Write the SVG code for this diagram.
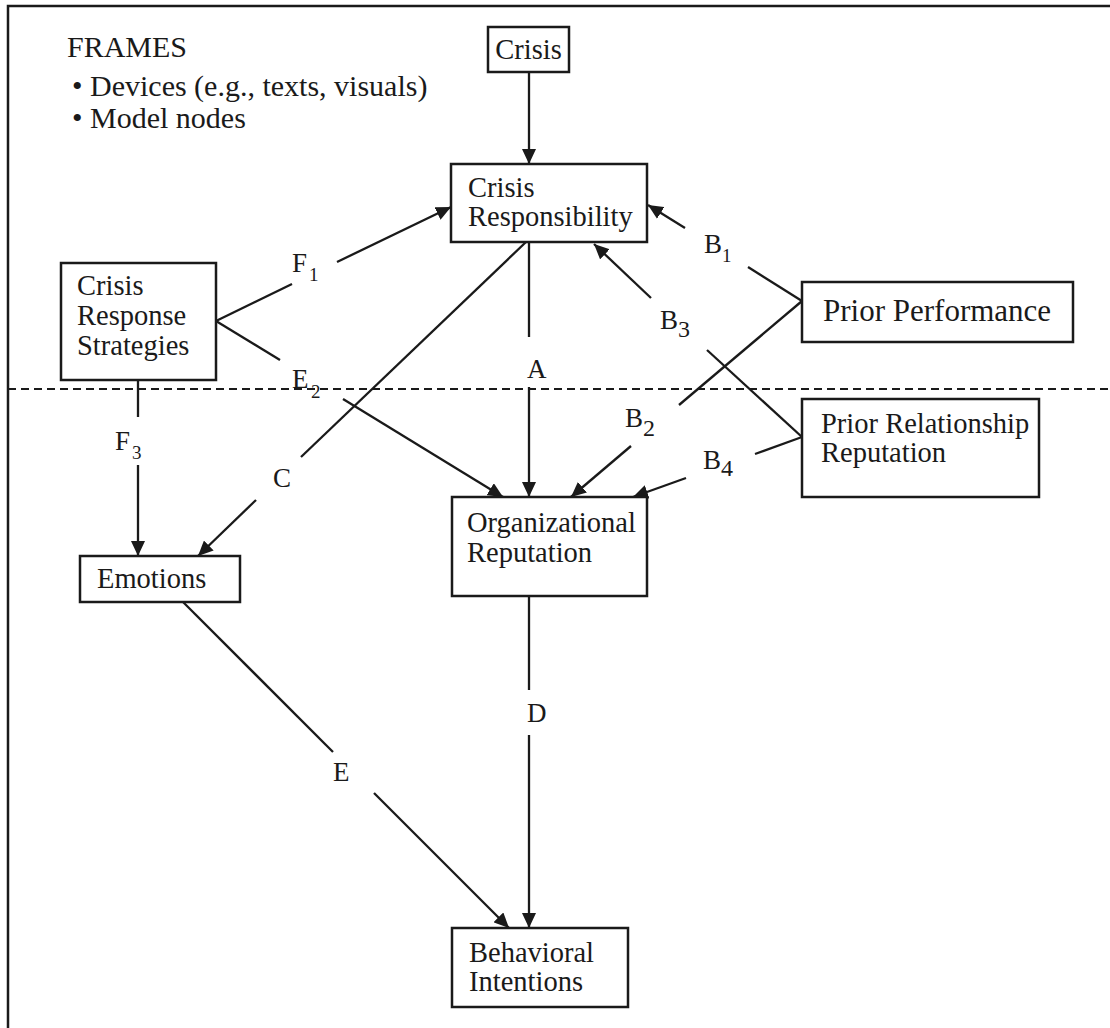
<svg xmlns="http://www.w3.org/2000/svg" width="1110" height="1028" viewBox="0 0 1110 1028">
<style>
  .box { fill: #fff; stroke: #1a1a1a; stroke-width: 2.5; }
  .t { font-family: "Liberation Serif", "Times New Roman", serif; fill: #1a1a1a; font-size: 28.5px; }
  .big { font-size: 30px; }
  .lab { font-family: "Liberation Serif", "Times New Roman", serif; fill: #1a1a1a; font-size: 27px; }
  .sub { font-family: "Liberation Serif", "Times New Roman", serif; fill: #1a1a1a; font-size: 19px; }
  .subL { font-family: "Liberation Serif", "Times New Roman", serif; fill: #1a1a1a; font-size: 24px; }
  .ln { fill: none; stroke: #1a1a1a; stroke-width: 2.3; }
  .arr { marker-end: url(#ah); }
</style>
<defs>
  <marker id="ah" markerUnits="userSpaceOnUse" markerWidth="16" markerHeight="14" refX="15" refY="7" orient="auto">
    <path d="M0,0 L15,7 L0,14 z" fill="#1a1a1a"/>
  </marker>
</defs>
<rect x="0" y="0" width="1110" height="1028" fill="#fff"/>
<path d="M8,1028 V6 H1110" fill="none" stroke="#1a1a1a" stroke-width="2.5"/>
<line x1="8" y1="389" x2="1110" y2="389" stroke="#1a1a1a" stroke-width="2.2" stroke-dasharray="8 5"/>

<g id="legend">
  <text class="t big" x="67" y="57">FRAMES</text>
  <text class="t big" x="72" y="96">• Devices (e.g., texts, visuals)</text>
  <text class="t big" x="72" y="128">• Model nodes</text>
</g>

<g id="connectors">
  <line class="ln arr" x1="529" y1="73" x2="529" y2="164"/>
  <!-- F1 -->
  <line class="ln" x1="216" y1="321" x2="292" y2="284"/>
  <line class="ln arr" x1="337" y1="262" x2="451" y2="207"/>
  <!-- E2 -->
  <line class="ln" x1="216" y1="321" x2="280" y2="360"/>
  <line class="ln arr" x1="343" y1="399" x2="503" y2="497"/>
  <!-- C -->
  <line class="ln" x1="526" y1="242" x2="301" y2="457"/>
  <line class="ln arr" x1="256" y1="500" x2="198" y2="556"/>
  <!-- F3 -->
  <line class="ln" x1="138" y1="380" x2="138" y2="417"/>
  <line class="ln arr" x1="138" y1="465" x2="138" y2="556"/>
  <!-- A -->
  <line class="ln" x1="529" y1="242" x2="529" y2="337"/>
  <line class="ln arr" x1="529" y1="387" x2="529" y2="497"/>
  <!-- B1 -->
  <line class="ln" x1="802" y1="301" x2="748" y2="267"/>
  <line class="ln arr" x1="685" y1="228" x2="648" y2="205"/>
  <!-- B2 -->
  <line class="ln" x1="802" y1="301" x2="679" y2="405"/>
  <line class="ln arr" x1="631" y1="446" x2="571" y2="497"/>
  <!-- B3 -->
  <line class="ln" x1="802" y1="437" x2="707" y2="350"/>
  <line class="ln arr" x1="651" y1="298" x2="594" y2="244"/>
  <!-- B4 -->
  <line class="ln" x1="802" y1="437" x2="755" y2="454"/>
  <line class="ln arr" x1="686" y1="478" x2="633" y2="497"/>
  <!-- D -->
  <line class="ln" x1="529" y1="596" x2="529" y2="690"/>
  <line class="ln arr" x1="529" y1="735" x2="529" y2="928"/>
  <!-- E -->
  <line class="ln" x1="183" y1="602" x2="333" y2="752"/>
  <line class="ln arr" x1="374" y1="793" x2="509" y2="928"/>

  <text class="lab" x="292" y="272">F</text><text class="sub" x="309" y="281">1</text>
  <text class="lab" x="292" y="388">E</text><text class="sub" x="311" y="398">2</text>
  <text class="lab" x="115" y="450">F</text><text class="sub" x="132" y="459">3</text>
  <text class="lab" x="273" y="487">C</text>
  <text class="lab" x="527" y="378">A</text>
  <text class="lab" x="527" y="722">D</text>
  <text class="lab" x="333" y="781">E</text>
  <text class="lab" x="704" y="253">B</text><text class="sub" x="722" y="262">1</text>
  <text class="lab" x="660" y="329">B</text><text class="subL" x="678" y="337">3</text>
  <text class="lab" x="625" y="427">B</text><text class="subL" x="643" y="436">2</text>
  <text class="lab" x="703" y="469">B</text><text class="subL" x="721" y="476">4</text>
</g>

<g id="crisis">
  <rect class="box" x="488" y="27" width="81" height="45"/>
  <text class="t" x="528.5" y="59" text-anchor="middle">Crisis</text>
</g>
<g id="crisis-responsibility">
  <rect class="box" x="451" y="164" width="196" height="78"/>
  <text class="t" x="468" y="197">Crisis</text>
  <text class="t" x="468" y="226">Responsibility</text>
</g>
<g id="crisis-response-strategies">
  <rect class="box" x="61" y="263" width="155" height="117"/>
  <text class="t" x="77" y="295">Crisis</text>
  <text class="t" x="77" y="325">Response</text>
  <text class="t" x="77" y="355">Strategies</text>
</g>
<g id="prior-performance">
  <rect class="box" x="802" y="282" width="271" height="60"/>
  <text class="t" x="823" y="321" style="font-size:31px">Prior Performance</text>
</g>
<g id="prior-relationship-reputation">
  <rect class="box" x="802" y="399" width="237" height="98"/>
  <text class="t" x="821" y="433">Prior Relationship</text>
  <text class="t" x="821" y="462">Reputation</text>
</g>
<g id="organizational-reputation">
  <rect class="box" x="452" y="497" width="195" height="99"/>
  <text class="t" x="467" y="532">Organizational</text>
  <text class="t" x="467" y="562">Reputation</text>
</g>
<g id="emotions">
  <rect class="box" x="80" y="556" width="160" height="46"/>
  <text class="t" x="97" y="588">Emotions</text>
</g>
<g id="behavioral-intentions">
  <rect class="box" x="452" y="928" width="176" height="79"/>
  <text class="t" x="469" y="962">Behavioral</text>
  <text class="t" x="469" y="991">Intentions</text>
</g>
</svg>
